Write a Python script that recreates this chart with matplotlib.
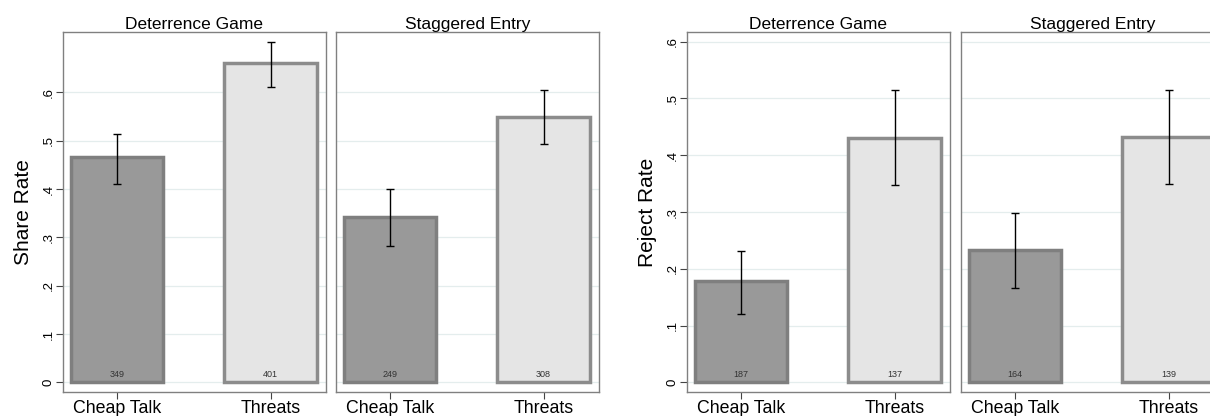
import matplotlib.pyplot as plt
import numpy as np

plt.rcParams['font.family'] = ['Liberation Sans', 'DejaVu Sans']

# treatment conditions on the x axis
conditions = ['Cheap Talk', 'Threats']
games = ['Deterrence Game', 'Staggered Entry']

# share rate: mean, lower and upper CI, and number of observations
share_mean = [[0.467, 0.661], [0.342, 0.549]]
share_lo = [[0.411, 0.612], [0.282, 0.493]]
share_hi = [[0.514, 0.704], [0.400, 0.605]]
share_n = [[349, 401], [249, 308]]

# reject rate
reject_mean = [[0.179, 0.431], [0.233, 0.432]]
reject_lo = [[0.121, 0.347], [0.167, 0.349]]
reject_hi = [[0.232, 0.515], [0.298, 0.515]]
reject_n = [[187, 137], [164, 139]]

W, H = 1210, 416
fig = plt.figure(figsize=(W / 100, H / 100), dpi=100)

fills = ['#999999', '#e5e5e5']
edges = ['#7f7f7f', '#8c8c8c']
frame_col = '#808080'


def panel(left_px, mean, lo, hi, n, title, ylim, first, ylabel=None):
    ax = fig.add_axes([left_px / W, (H - 392) / H, 263 / W, 360 / H])
    x = np.arange(len(conditions))
    ax.bar(x, mean, width=0.6, color=fills, edgecolor=edges, linewidth=2.5, zorder=2)
    yerr = [np.array(mean) - np.array(lo), np.array(hi) - np.array(mean)]
    ax.errorbar(x, mean, yerr=yerr, fmt='none', ecolor='black', elinewidth=1,
                capsize=3, capthick=1, zorder=3)
    for xi, cnt in zip(x, n):
        ax.text(xi, 0.006 * (ylim[1] - ylim[0]) / 0.74, str(cnt), ha='center', va='bottom',
                fontsize=6.5, color='#333333', zorder=4)
    ax.set_xlim(-0.35, 1.36)
    ax.set_ylim(*ylim)
    ax.set_yticks(np.arange(0, 0.61, 0.1))
    ax.yaxis.grid(True, color='#e4eded', linewidth=0.9, zorder=0)
    ax.set_axisbelow(True)
    ax.set_xticks(x)
    ax.set_xticklabels(conditions, fontsize=12.8)
    ax.tick_params(axis='x', length=5, width=0.8, color='#444444', pad=1)
    if first:
        ax.set_yticklabels(['0', '.1', '.2', '.3', '.4', '.5', '.6'], rotation=90,
                           va='center', fontsize=9.5)
        ax.tick_params(axis='y', length=5, width=0.8, color='#444444', pad=1)
        ax.set_ylabel(ylabel, fontsize=15, labelpad=7)
    else:
        ax.tick_params(axis='y', length=0, labelleft=False)
    for s in ax.spines.values():
        s.set_color(frame_col)
        s.set_linewidth(1)
    ax.set_title(title, fontsize=12.5, pad=2)
    return ax


for k, left in enumerate([63, 336]):
    panel(left, share_mean[k], share_lo[k], share_hi[k], share_n[k], games[k],
          (-0.020, 0.725), k == 0, 'Share Rate')

for k, left in enumerate([687, 961]):
    panel(left, reject_mean[k], reject_lo[k], reject_hi[k], reject_n[k], games[k],
          (-0.017, 0.617), k == 0, 'Reject Rate')

fig.savefig('out.png', dpi=100)
